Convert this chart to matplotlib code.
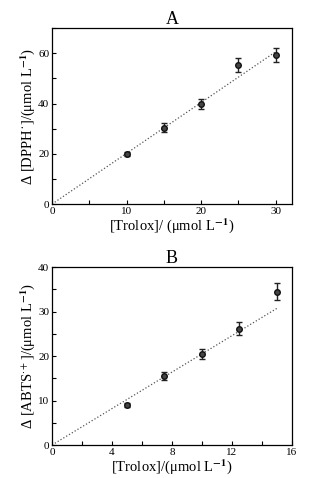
import matplotlib
matplotlib.use('Agg')
import matplotlib.pyplot as plt
from matplotlib.ticker import MultipleLocator

plt.rcParams['font.family'] = ['Liberation Serif', 'DejaVu Serif']
plt.rcParams['mathtext.fontset'] = 'stix'

# Panel A: DPPH
trolox_a = [10, 15, 20, 25, 30]
dpph = [20.0, 30.4, 40.0, 55.5, 59.3]
dpph_err = [0.8, 1.8, 2.0, 2.8, 2.9]
slope_a = 2.02

# Panel B: ABTS
trolox_b = [5, 7.5, 10, 12.5, 15]
abts = [9.0, 15.5, 20.5, 26.2, 34.5]
abts_err = [0.4, 0.9, 1.1, 1.4, 1.9]
slope_b = 2.05

fig = plt.figure(figsize=(3.17, 4.78), dpi=100)
ax1 = fig.add_axes([0.164, 0.573, 0.757, 0.368])
ax2 = fig.add_axes([0.164, 0.069, 0.757, 0.372])


def style(ax, xmaj, xmin, ymaj, ymin):
    ax.xaxis.set_major_locator(MultipleLocator(xmaj))
    ax.xaxis.set_minor_locator(MultipleLocator(xmin))
    ax.yaxis.set_major_locator(MultipleLocator(ymaj))
    ax.yaxis.set_minor_locator(MultipleLocator(ymin))
    ax.tick_params(which='both', direction='in', labelsize=8, width=0.8, pad=2)
    ax.tick_params(which='major', length=3)
    ax.tick_params(which='minor', length=3)
    for s in ax.spines.values():
        s.set_linewidth(0.9)


ax1.plot([0, 30], [0, 30 * slope_a], ls=':', color='#555555', lw=0.9)
ax1.errorbar(trolox_a, dpph, yerr=dpph_err, fmt='o', color='#222222',
             ms=4, mfc='#444444', mec='#111111', capsize=2, elinewidth=1, capthick=1)
ax1.set_xlim(0, 32.2)
ax1.set_ylim(0, 70)
style(ax1, 10, 5, 20, 10)
ax1.set_xlabel('[Trolox]/ (μmol L$^{\\mathbf{-1}}$)', fontsize=10.5, labelpad=0)
ax1.set_ylabel('Δ [DPPH˙]/(μmol L$^{\\mathbf{-1}}$)', fontsize=10.5, labelpad=1)
ax1.set_title('A', fontsize=13, pad=0)

ax2.plot([0, 15], [0, 15 * slope_b], ls=':', color='#555555', lw=0.9)
ax2.errorbar(trolox_b, abts, yerr=abts_err, fmt='o', color='#222222',
             ms=4, mfc='#444444', mec='#111111', capsize=2, elinewidth=1, capthick=1)
ax2.set_xlim(0, 16)
ax2.set_ylim(0, 40)
style(ax2, 4, 2, 10, 5)
ax2.set_xlabel('[Trolox]/(μmol L$^{\\mathbf{-1}}$)', fontsize=10.5, labelpad=0)
ax2.set_ylabel('Δ [ABTS$^{\\cdot +}$]/(μmol L$^{\\mathbf{-1}}$)', fontsize=10.5, labelpad=1)
ax2.set_title('B', fontsize=13, pad=0)

fig.savefig('out.png', dpi=100)
